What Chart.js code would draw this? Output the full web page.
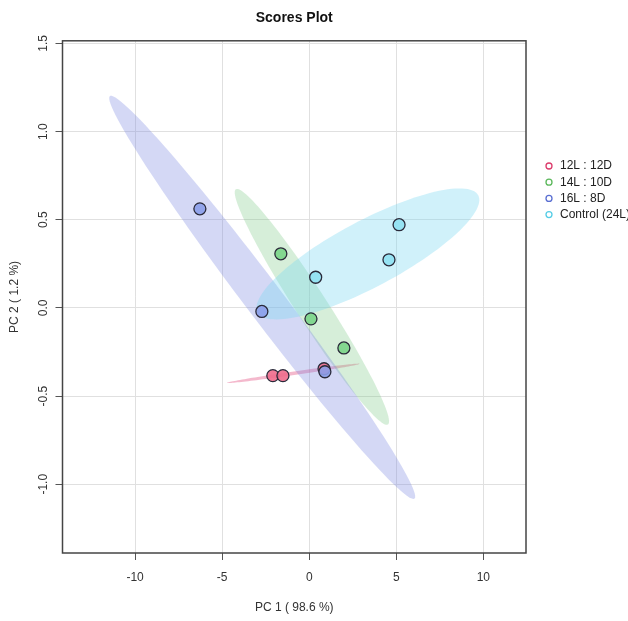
<!DOCTYPE html>
<html>
<head>
<meta charset="utf-8">
<script src="https://cdn.jsdelivr.net/npm/chart.js@4"></script>
<style>
  body { margin: 0; background: #fff; }
</style>
</head>
<body>
<canvas id="scoresChart" width="628" height="621"></canvas>
<script>
// groups and PCA scores
const groups = ['12L : 12D', '14L : 10D', '16L : 8D', 'Control (24L)'];
const pc1_12L = [-2.09, -1.51, 0.85];
const pc2_12L = [-0.384, -0.384, -0.345];
const pc1_14L = [-1.63, 0.10, 1.99];
const pc2_14L = [0.307, -0.062, -0.227];
const pc1_16L = [-6.28, -2.72, 0.90];
const pc2_16L = [0.562, -0.020, -0.362];
const pc1_ctrl = [0.37, 4.58, 5.16];
const pc2_ctrl = [0.174, 0.273, 0.472];

const xTicks = [-10, -5, 0, 5, 10];
const yTicks = [-1.0, -0.5, 0.0, 0.5, 1.0, 1.5];

const pc1 = [pc1_12L, pc1_14L, pc1_16L, pc1_ctrl];
const pc2 = [pc2_12L, pc2_14L, pc2_16L, pc2_ctrl];

// colours
const pointColors = ['rgba(240,108,140,0.9)', 'rgba(128,214,140,0.95)', 'rgba(140,158,234,0.9)', 'rgba(146,226,242,0.95)'];
const ellipseColors = ['rgba(228,80,130,0.4)', 'rgba(120,200,130,0.3)', 'rgba(120,135,225,0.32)', 'rgba(120,215,240,0.35)'];
const legendColors = ['#dc3c6c', '#5cb85c', '#5a6fd2', '#56cde6'];

const FONT = "'Liberation Sans', Arial, sans-serif";
const T95 = Math.sqrt(5.991); // sqrt(qchisq(0.95, 2))

// 95% ellipse around a group's points (same form as R's ellipse package)
function ellipsePoints(xs, ys) {
  const n = xs.length;
  const mx = xs.reduce((a, b) => a + b, 0) / n;
  const my = ys.reduce((a, b) => a + b, 0) / n;
  let sxx = 0, syy = 0, sxy = 0;
  for (let i = 0; i < n; i++) {
    sxx += (xs[i] - mx) ** 2;
    syy += (ys[i] - my) ** 2;
    sxy += (xs[i] - mx) * (ys[i] - my);
  }
  sxx /= n - 1; syy /= n - 1; sxy /= n - 1;
  const sx = Math.sqrt(sxx), sy = Math.sqrt(syy);
  const r = Math.max(-1, Math.min(1, sxy / (sx * sy)));
  const d = Math.acos(r);
  const pts = [];
  for (let k = 0; k <= 120; k++) {
    const a = (k / 120) * 2 * Math.PI;
    pts.push([mx + T95 * sx * Math.cos(a + d / 2), my + T95 * sy * Math.cos(a - d / 2)]);
  }
  return pts;
}

const scorePlugin = {
  id: 'scorePlugin',
  beforeDatasetsDraw(chart) {
    const { ctx, chartArea: ca, scales: { x, y } } = chart;
    ctx.save();
    ctx.beginPath();
    ctx.rect(ca.left, ca.top, ca.width, ca.height);
    ctx.clip();
    pc1.forEach((xs, i) => {
      ctx.beginPath();
      ellipsePoints(xs, pc2[i]).forEach(([vx, vy], k) => {
        const px = x.getPixelForValue(vx), py = y.getPixelForValue(vy);
        if (k) ctx.lineTo(px, py); else ctx.moveTo(px, py);
      });
      ctx.closePath();
      ctx.fillStyle = ellipseColors[i];
      ctx.fill();
    });
    ctx.restore();
  },
  afterDraw(chart) {
    const { ctx, chartArea: ca } = chart;
    ctx.save();
    // box round the plot
    ctx.strokeStyle = '#444';
    ctx.lineWidth = 1.5;
    ctx.strokeRect(ca.left, ca.top, ca.width, ca.height);
    // legend on the right
    ctx.font = '12px ' + FONT;
    ctx.textBaseline = 'middle';
    groups.forEach((g, i) => {
      const ly = 166 + i * 16.2;
      ctx.beginPath();
      ctx.arc(549, ly, 3, 0, 2 * Math.PI);
      ctx.strokeStyle = legendColors[i];
      ctx.lineWidth = 1.3;
      ctx.stroke();
      ctx.fillStyle = '#222';
      ctx.fillText(g, 560, ly);
    });
    ctx.restore();
  }
};

const ctx = document.getElementById('scoresChart').getContext('2d');
const scoresChart = new Chart(ctx, {
  type: 'scatter',
  data: {
    datasets: groups.map((g, i) => ({
      label: g,
      data: pc1[i].map((v, k) => ({ x: v, y: pc2[i][k] })),
      backgroundColor: pointColors[i],
      borderColor: '#2a2a3a',
      borderWidth: 1.3,
      pointRadius: 6,
      order: groups.length - i
    }))
  },
  options: {
    responsive: false,
    animation: false,
    layout: { padding: { left: 0, right: 102, top: 0, bottom: 0 } },
    plugins: {
      legend: { display: false },
      tooltip: { enabled: false },
      title: {
        display: true,
        text: 'Scores Plot',
        fullSize: false,
        color: '#111',
        font: { family: FONT, size: 14, weight: 'bold' },
        padding: { top: 10, bottom: 14 }
      }
    },
    scales: {
      x: {
        type: 'linear',
        min: -14.17,
        max: 12.45,
        afterBuildTicks: (s) => { s.ticks = xTicks.map(v => ({ value: v })); },
        afterFit: (s) => { s.height = 68; },
        ticks: {
          color: '#333',
          font: { family: FONT, size: 12 },
          padding: 10,
          callback: (v) => String(v)
        },
        grid: { color: '#e0e0e0', tickColor: '#555', tickLength: 7 },
        border: { display: false },
        title: {
          display: true,
          text: 'PC 1 ( 98.6 %)',
          color: '#333',
          font: { family: FONT, size: 12 },
          padding: { top: 4, bottom: 6 }
        }
      },
      y: {
        type: 'linear',
        min: -1.39,
        max: 1.515,
        afterBuildTicks: (s) => { s.ticks = yTicks.map(v => ({ value: v })); },
        afterFit: (s) => { s.width = 62.5; },
        ticks: {
          color: '#333',
          font: { family: FONT, size: 12 },
          minRotation: 90,
          maxRotation: 90,
          crossAlign: 'center',
          padding: 1,
          callback: (v) => v.toFixed(1)
        },
        grid: { color: '#e0e0e0', tickColor: '#555', tickLength: 7 },
        border: { display: false },
        title: {
          display: true,
          text: 'PC 2 ( 1.2 %)',
          color: '#333',
          font: { family: FONT, size: 12 },
          padding: { top: 7, bottom: 0 }
        }
      }
    }
  },
  plugins: [scorePlugin]
});
</script>
</body>
</html>
